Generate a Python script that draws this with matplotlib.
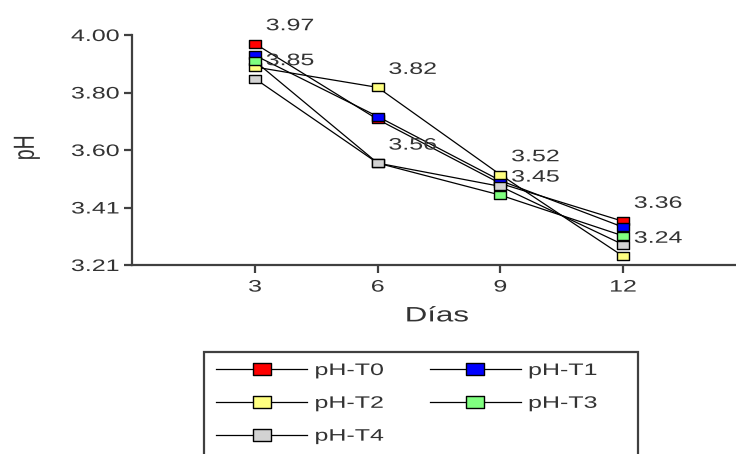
import matplotlib
matplotlib.use('Agg')
import matplotlib.pyplot as plt
from matplotlib.patches import Rectangle
from matplotlib.path import Path
from matplotlib.transforms import Affine2D
from matplotlib.legend_handler import HandlerLine2D
import matplotlib.patheffects as pe
import numpy as np

plt.rcParams['font.family'] = ['Liberation Sans', 'DejaVu Sans']

# datos
dias = [3, 6, 9, 12]
ph_t0 = [3.97, 3.71, 3.49, 3.36]
ph_t1 = [3.93, 3.72, 3.50, 3.34]
ph_t2 = [3.89, 3.82, 3.52, 3.24]
ph_t3 = [3.91, 3.56, 3.45, 3.31]
ph_t4 = [3.85, 3.56, 3.48, 3.28]
series_names = ['pH-T0', 'pH-T1', 'pH-T2', 'pH-T3', 'pH-T4']
series_colors = ['#ff0000', '#0000ff', '#ffff80', '#80ff80', '#d3d3d3']
ytick_labels = ['3.21', '3.41', '3.60', '3.80', '4.00']

# etiquetas: (serie, indice del dia)
etiquetas = [(0, 0), (4, 0), (2, 1), (4, 1), (2, 2), (3, 2), (0, 3), (2, 3)]

series = [ph_t0, ph_t1, ph_t2, ph_t3, ph_t4]

# la imagen original esta estirada a lo ancho (~1.5x)
SX = 1.5


class EstiraX(pe.AbstractPathEffect):
    """estira el texto en horizontal alrededor de su ancla"""
    def __init__(self, sx, ancla):
        super().__init__()
        self.sx = sx
        self.ancla = ancla

    def draw_path(self, renderer, gc, tpath, affine, rgbFace=None):
        ext = tpath.get_extents(affine)
        x0 = ext.x0 + self.ancla * ext.width
        t = affine + Affine2D().translate(-x0, 0).scale(self.sx, 1).translate(x0, 0)
        renderer.draw_path(gc, tpath, t, rgbFace)


# marcador cuadrado estirado
r = 1 / SX
caja = Path([(-1, -r), (1, -r), (1, r), (-1, r), (-1, -r)],
            [Path.MOVETO, Path.LINETO, Path.LINETO, Path.LINETO, Path.CLOSEPOLY])

W, H = 736, 454
fig = plt.figure(figsize=(W / 100, H / 100), dpi=100)
ax = fig.add_axes([132.3 / W, 189 / H, (W - 132.3) / W, 230 / H])

txt_color = '#333333'
axis_color = '#404040'

lineas = []
for vals, name, col in zip(series, series_names, series_colors):
    ln, = ax.plot(dias, vals, color='black', lw=0.9, marker=caja, markersize=9.3,
                  markerfacecolor=col, markeredgecolor='black',
                  markeredgewidth=1.0, label=name)
    lineas.append(ln)

for s, i in etiquetas:
    v = series[s][i]
    ax.annotate('%.2f' % v, xy=(dias[i], v), xytext=(11, 18),
                textcoords='offset pixels', ha='left', va='center',
                fontsize=12, color=txt_color)

ax.set_xlim(0, 14.76)
# eje lineal de 3.21 a 4.00 con 5 marcas
ax.set_ylim(3.21, 4.00)
ax.set_yticks(np.linspace(3.21, 4.00, 5))
ax.set_yticklabels(ytick_labels)
ax.set_xticks(dias)

for side in ['top', 'right']:
    ax.spines[side].set_visible(False)
for side in ['left', 'bottom']:
    ax.spines[side].set_color(axis_color)
    ax.spines[side].set_linewidth(1.6)

ax.tick_params(axis='both', direction='out', length=6, width=1.6,
               color=axis_color, labelsize=12, labelcolor=txt_color)
ax.tick_params(axis='y', pad=3.5)
ax.tick_params(axis='x', pad=4.5)

ax.set_xlabel('Días', fontsize=15, color=txt_color)
ax.set_ylabel('pH', fontsize=14, color=txt_color, va='center')
ax.xaxis.set_label_coords(0.505, -0.18)
ax.yaxis.set_label_coords((27 - 132.3) / 603.7, 0.51)


def marcador_leyenda(h, orig):
    h.update_from(orig)
    h.set_markersize(12.5)


# leyenda en filas: T0 T1 / T2 T3 / T4
orden = [0, 2, 4, 1, 3]
leg = fig.legend([lineas[k] for k in orden], [series_names[k] for k in orden],
                 loc='upper left', bbox_to_anchor=(216 / W, 1 - 363 / H),
                 ncol=2, fontsize=12, handlelength=5.46, handletextpad=0.48,
                 columnspacing=4.1, borderpad=0, borderaxespad=0,
                 labelspacing=1.07, frameon=False, numpoints=1,
                 handler_map={matplotlib.lines.Line2D:
                              HandlerLine2D(update_func=marcador_leyenda)})
for t in leg.get_texts():
    t.set_color(txt_color)

# marco de la leyenda (se sale por abajo)
fig.patches.append(Rectangle((204 / W, -0.05), (638 - 204) / W, 0.05 + (H - 352) / H,
                             transform=fig.transFigure, fill=False,
                             edgecolor=axis_color, linewidth=1.6))

fig.canvas.draw()
anclas = {'left': 0.0, 'center': 0.5, 'right': 1.0}
for t in fig.findobj(matplotlib.text.Text):
    if t.get_text():
        t.set_path_effects([EstiraX(SX, anclas.get(t.get_ha(), 0.5))])

fig.savefig('out.png', dpi=100)
